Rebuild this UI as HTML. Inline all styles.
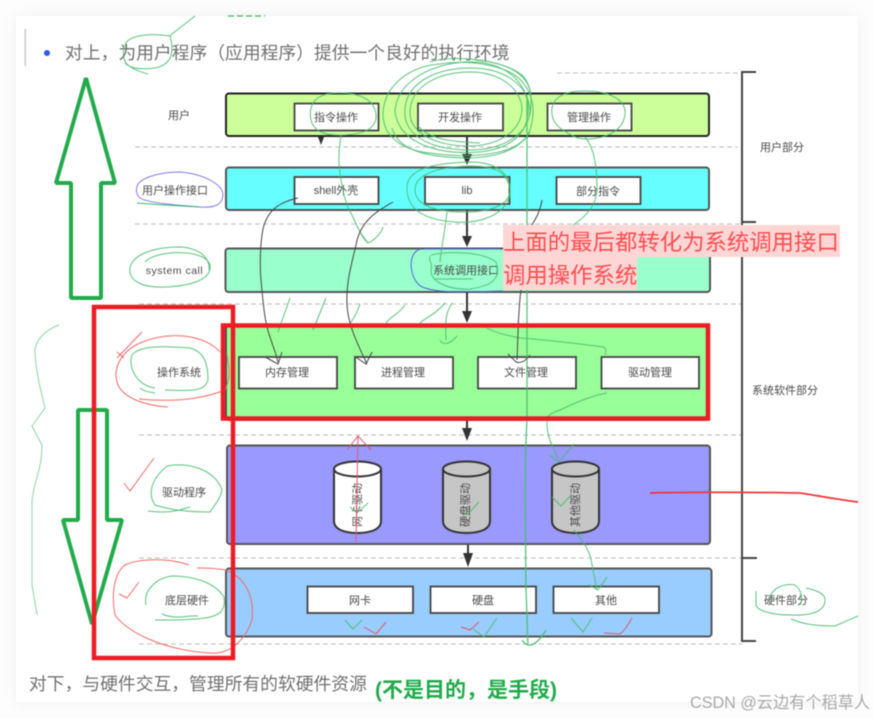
<!DOCTYPE html>
<html><head><meta charset="utf-8"><style>
html,body{margin:0;padding:0;background:#fdfdfd;width:874px;height:718px;overflow:hidden}
#c{position:absolute;left:16px;top:16px;width:842px;height:686px;background:#fff;box-shadow:0 0 14px rgba(0,0,0,.06)}
svg{position:absolute;left:0;top:0;filter:blur(.5px)}
text{font-family:"Liberation Sans","Noto Sans CJK SC",sans-serif}
</style></head><body><div id="c"></div>
<svg width="874" height="718" viewBox="0 0 874 718" xmlns="http://www.w3.org/2000/svg">
<rect x="24.5" y="29" width="1.5" height="37" fill="#c8c8c8"/>
<circle cx="47" cy="53" r="3" fill="#2a5be8"/>
<text x="65" y="59" font-size="17.8" fill="#707070">对上，为用户程序（应用程序）提供一个良好的执行环境</text>
<text x="29" y="690" font-size="17.8" fill="#707070">对下，与硬件交互，管理所有的软硬件资源</text>
<text x="375" y="697" font-size="21" font-weight="bold" fill="#22aa4b">(不是目的，是手段)</text>

<!-- dashed -->
<g stroke="#bdbdbd" stroke-width="1" stroke-dasharray="5 3" fill="none">
<path d="M557 73H738M135 147H738M135 224H742M139 304H742M139 435H742M139 558H742M139 644H742"/>
</g>
<!-- rows -->
<g stroke-width="2">
<rect x="226" y="93.500" width="483" height="42.500" rx="3" fill="#ccff99" stroke="#222"/>
<rect x="226" y="167.500" width="483" height="42.500" rx="3" fill="#66ffff" stroke="#555"/>
<rect x="225.500" y="248.500" width="484.500" height="43.500" rx="3" fill="#99ffcc" stroke="#555"/>
<rect x="226" y="325" width="483" height="95" rx="3" fill="#99ff99" stroke="#555"/>
<rect x="227" y="445.500" width="483" height="98.500" rx="3" fill="#9999ff" stroke="#555"/>
<rect x="226" y="568.500" width="485.500" height="68" rx="3" fill="#99ccff" stroke="#555"/>
</g>
<!-- boxes -->
<g fill="#fff" stroke="#444" stroke-width="1.800">
<rect x="294.500" y="103.500" width="84" height="27"/>
<rect x="418" y="103.500" width="85" height="27"/>
<rect x="547.500" y="103.500" width="84" height="27"/>
<rect x="294.500" y="177" width="84" height="27"/>
<rect x="425" y="177" width="84.500" height="27"/>
<rect x="556.500" y="177" width="84" height="27"/>
<rect x="239" y="357" width="98" height="31.500"/>
<rect x="355" y="357" width="98" height="31.500"/>
<rect x="478" y="357" width="98" height="31.500"/>
<rect x="601.500" y="357" width="97.500" height="31.500"/>
<rect x="307.500" y="586.500" width="105.500" height="26.500"/>
<rect x="430.500" y="586.500" width="105.500" height="26.500"/>
<rect x="553.500" y="586.500" width="105.500" height="26.500"/>
</g>
<!-- arrows -->
<g stroke="#333" stroke-width="2" fill="#333">
<path d="M467 136V156M467 210V238M467 292V312M467 420V430M468 545V555" fill="none"/>
<path d="M462 154h10l-5 11zM462 236h10l-5 11zM462 311h10l-5 12zM462 428h10l-5 13zM463 553h10l-5 14z" stroke="none"/>
<path d="M318 137h6l-3 8z" stroke="none"/>
</g>
<!-- cylinders -->
<g stroke="#333" stroke-width="2">
<path d="M334 469V521C334 530 346 533 357.500 533S381 530 381 521V469Z" fill="#fff"/>
<ellipse cx="357.500" cy="469" rx="23.500" ry="7.500" fill="#fff"/>
<path d="M443 469V521C443 530 455 533 466.500 533S490 530 490 521V469Z" fill="#c6c6c6"/>
<ellipse cx="466.500" cy="469" rx="23.500" ry="7.500" fill="#c6c6c6"/>
<path d="M552 469V521C552 530 564 533 575.500 533S599 530 599 521V469Z" fill="#c6c6c6"/>
<ellipse cx="575.500" cy="469" rx="23.500" ry="7.500" fill="#c6c6c6"/>
</g>
<!-- text labels -->
<g font-size="11" fill="#4a4a4a" text-anchor="middle">
<text x="179" y="119">用户</text>
<text x="175" y="194">用户操作接口</text>
<text x="174.500" y="274" letter-spacing=".5" font-family="DejaVu Sans" font-size="10.500">system call</text>
<text x="179" y="376">操作系统</text>
<text x="184" y="496">驱动程序</text>
<text x="187" y="604">底层硬件</text>
<text x="336" y="121">指令操作</text>
<text x="460" y="121">开发操作</text>
<text x="589" y="121">管理操作</text>
<text x="336" y="194">shell外壳</text>
<text x="467" y="194">lib</text>
<text x="598" y="195">部分指令</text>
<text x="466" y="274">系统调用接口</text>
<text x="287" y="376">内存管理</text>
<text x="403" y="376">进程管理</text>
<text x="526" y="376">文件管理</text>
<text x="650" y="376">驱动管理</text>
<text x="360" y="604">网卡</text>
<text x="483" y="604">硬盘</text>
<text x="606" y="604">其他</text>
<text x="782" y="151">用户部分</text>
<text x="785" y="394">系统软件部分</text>
<text x="786" y="604">硬件部分</text>
<text transform="translate(361,505) rotate(-90)">网卡驱动</text>
<text transform="translate(469,505) rotate(-90)">硬盘驱动</text>
<text transform="translate(579,505) rotate(-90)">其他驱动</text>
</g>
<!-- bracket -->
<path d="M756 72H742V641H756M742 222H756M742 558H757" fill="none" stroke="#444" stroke-width="2"/>

<!-- green scribbles -->
<g fill="none" stroke="#47bb6e" stroke-width="1" opacity=".9">
<path d="M195 16L172 34L170 36C150,33 128,35 125,45C120,60 125,68 148,74M170 36C175,55 170,65 155,68C140,70 130,68 125,63"/>
<path d="M228 16H265" stroke-width="1.500" stroke-dasharray="6 3"/>
<path d="M311 120C308,105 315,94 335,93C360,92 375,100 376,115C377,128 365,134 345,135C325,136 314,132 311,120"/>
<path d="M341 135C339,150 338,160 340,173C342,190 346,205 352,215C358,228 362,238 368,243C375,240 382,232 383,227M360 232L368 243"/>
<path d="M440 64C410,66 385,85 383,112C382,135 400,150 430,153C465,158 520,158 530,130C538,105 530,80 505,70C480,60 450,62 440,64Z"/>
<path d="M395 112C396,85 425,65 465,62C500,60 525,78 528,105C530,130 515,148 480,152C440,155 400,145 395,112Z"/>
<path d="M405 108C408,80 440,68 470,68C505,68 528,85 530,110C530,132 505,150 470,150C430,150 402,135 405,108Z"/>
<path d="M410 110C412,85 440,72 470,72C500,72 520,88 522,108C522,130 500,146 468,146C440,146 408,135 410,110Z"/>
<path d="M418 126C430,140 455,142 480,143"/>
<path d="M392 128C398,150 425,157 465,158C495,158 520,150 530,132"/>
<path d="M430 62C450,55 500,58 522,75C532,85 532,100 530,115"/>
<path d="M475 60C500,62 528,70 531,95"/>
<path d="M552 115C550,100 560,91 585,91C610,91 625,100 625,112C625,125 615,135 597,138C580,142 570,135 560,128C555,124 553,120 552,115"/>
<path d="M585 137C594,148 597,165 597,190C596,205 588,215 572,226"/>
<path d="M415 190C415,175 435,167 470,166C500,166 508,175 510,190C510,205 490,212 465,212C435,212 415,205 415,190Z"/>
<path d="M407 190C405,170 430,163 470,162C495,162 512,172 510,195C505,215 480,224 455,222C425,220 408,210 407,190Z"/>
<path d="M447 212C445,230 441,250 440,262"/>
<path d="M145 262C155,250 205,248 210,265C212,280 190,286 165,287C145,288 128,282 130,268C132,256 150,247 180,247C200,248 210,258 209,270"/>
<path d="M431 255C445,252 480,250 496,262C500,275 498,285 470,289C445,290 430,280 431,270C433,262 428,262 430,256"/>
<path d="M435 279H473"/>
<path d="M290 298L278 332M326 298L313 330M360 304C356,315 352,322 348,325M405 305C398,315 392,315 386,323M445 303C435,315 425,318 420,323M452 303C446,312 445,320 446,340M440 340C443,346 450,344 457,336"/>
<path d="M487 328C495,333 510,336 520,338C550,340 580,344 604,347C607,350 606,353 605,355"/>
<path d="M607 393C590,396 575,403 560,410C552,413 547,415 547,420C547,430 548,437 552,445L558 458M549 455L559 462L574 444"/>
<path d="M574 530C585,545 590,550 592,565L597 590M589 585L598 590L607 577"/>
<path d="M527 95C527,140 527,170 527,200 527,240 527,280 527,420C525,450 525,500 526,590C527,610 527,630 528,645M522 640C527,648 535,648 546,630" stroke-width="1.300"/>
<path d="M350 507L357 513L368 503M465 512L468 514L479 502M552 497L561 506L570 496"/>
<path d="M155 388C135,385 128,365 132,355C140,345 165,346 190,348C205,352 208,365 208,380C205,392 190,391 165,390M140 388C145,392 150,392 155,393"/>
<path d="M167 466C190,462 215,470 222,490C221,497 215,505 210,512C190,512 170,510 155,505C148,495 150,480 167,466ZM148 511C165,513 175,512 190,507"/>
<path d="M172 576C195,576 215,583 224,597C226,610 220,616 205,618C190,620 175,620 155,620M162 614C175,620 190,615 198,616M146 605C143,592 155,578 172,576"/>
<path d="M59 325C45,330 36,340 35,350C35,370 42,395 45,408L32 426L42 445C42,470 34,480 32,501V585L37 615" opacity=".7"/>
<path d="M345 620L353 629L362 620M473 629L484 637L497 618M571 618L583 632L592 618"/>
<path d="M756 591V605C757,610 770,615 790,615C815,616 825,610 825,600C825,593 815,590 806,588M770 600C770,588 785,583 795,585C802,590 803,600 800,605M791 619C805,625 820,626 835,626L858 616"/>
</g>
<!-- blue -->
<g fill="none" stroke="#7d7de8" stroke-width="1">
<path d="M137 187C138,178 160,172 180,172C205,174 223,185 223,195C222,205 215,208 200,207C175,205 148,203 140,198C136,194 136,190 137,187Z"/>
<path d="M421 249C405,252 410,285 425,288C440,293 470,292 503,291M424 249H500" stroke="#5566dd"/>
</g>
<path d="M137 203C160,205 180,206 200,207" fill="none" stroke="#3cb96b" stroke-width="1"/>

<!-- black curves -->
<g fill="none" stroke="#444" stroke-width="1">
<path d="M298 198C280,202 265,210 262,235C258,265 262,290 264,310C267,335 274,345 278,362M265 357L278 364L282 352"/>
<path d="M393 202C375,212 360,222 356,245C350,270 346,285 347,305C348,325 358,345 367,364M354 356L366 364L372 352"/>
<path d="M542 200C540,212 536,218 532,225M521 290C518,310 518,340 517,360M508 354L516 362C522,364 526,360 530,355"/>
</g>
<!-- red hand-drawn -->
<g fill="none" stroke="#ef6a6a" stroke-width="1">
<path d="M220 352C205,335 170,330 140,343C120,352 112,370 118,385C125,400 150,406 168,407M139 399C170,402 200,400 225,390C230,380 230,370 227,355"/>
<path d="M142 332L117 358M117 352L124 358"/>
<path d="M124 483L130 491L154 458"/>
<path d="M189 565C170,558 140,558 125,565C112,575 112,600 115,615C125,630 160,650 210,653C230,655 245,640 252,620C255,590 240,575 225,570C215,568 205,568 197,568"/>
<path d="M119 594L127 598L139 582"/>
<path d="M356 542C357,510 357,470 358,436M347 450L358 436L371 450" stroke="#e2576f"/>
<path d="M364 627L376 634L386 622M461 627L470 630L479 622M604 633L620 634C625,630 628,625 632,618" stroke="#e2576f"/>
</g>
<path d="M650 493C690,492 740,492 800,493C820,496 840,500 858,502" fill="none" stroke="#f0363c" stroke-width="1.800"/>

<!-- thick green arrows -->
<g fill="none" stroke="#22aa4b" stroke-width="4" stroke-linejoin="bevel">
<path d="M86 78L115 183H101V298H71V183H56Z"/>
<path d="M78 410H107V520H122L92 624L63 520H78Z"/>
</g>
<!-- thick red -->
<g fill="none" stroke="#ed1c24" stroke-width="4.500">
<rect x="94" y="307" width="139" height="351"/>
<rect x="223" y="325.500" width="485" height="93"/>
</g>
<!-- red caption -->
<rect x="503" y="225" width="337" height="32" fill="#ffd6d6"/>
<rect x="503" y="257" width="134" height="33" fill="#ffd6d6"/>
<g font-size="22.400" fill="#ff4d4f">
<text x="503" y="250">上面的最后都转化为系统调用接口</text>
<text x="503" y="283">调用操作系统</text>
</g>
<text x="690" y="708" font-size="16.200" fill="#a8a8a8">CSDN @云边有个稻草人</text>
</svg>
</body></html>
